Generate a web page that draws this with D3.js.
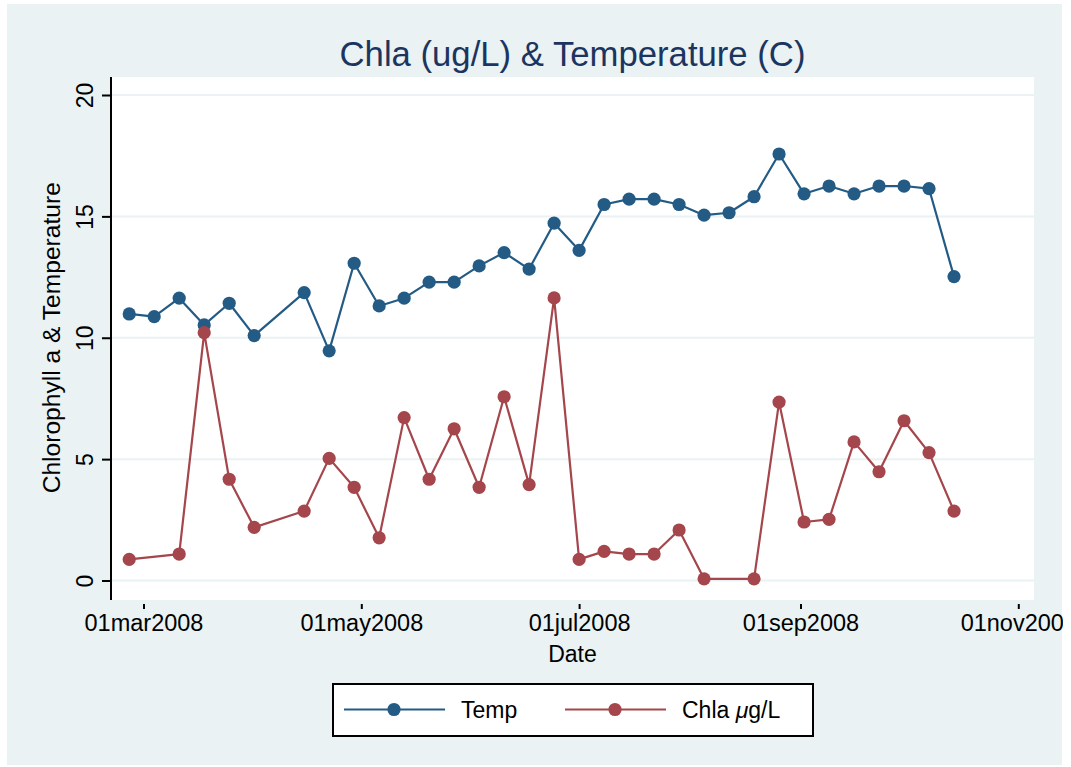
<!DOCTYPE html>
<html>
<head>
<meta charset="utf-8">
<script src="https://cdn.jsdelivr.net/npm/d3@7"></script>
<style>
  body { margin: 0; background: #fff; }
  svg { display: block; font-family: "Liberation Sans", Arial, Helvetica, sans-serif; }
</style>
</head>
<body>
<div id="chart"></div>
<script>
// Sample dates (weekly, Tuesdays; 8 Apr missing)
const dates = [
    "2008-02-26", "2008-03-04", "2008-03-11", "2008-03-18", "2008-03-25", "2008-04-01",
    "2008-04-15", "2008-04-22", "2008-04-29", "2008-05-06", "2008-05-13", "2008-05-20",
    "2008-05-27", "2008-06-03", "2008-06-10", "2008-06-17", "2008-06-24", "2008-07-01",
    "2008-07-08", "2008-07-15", "2008-07-22", "2008-07-29", "2008-08-05", "2008-08-12",
    "2008-08-19", "2008-08-26", "2008-09-02", "2008-09-09", "2008-09-16", "2008-09-23",
    "2008-09-30", "2008-10-07", "2008-10-14"
];

// Temperature (C)
const temp = [
    10.98, 10.87, 11.63, 10.53, 11.42, 10.09,
    11.86, 9.46, 13.07, 11.31, 11.63, 12.29,
    12.29, 12.96, 13.51, 12.83, 14.72, 13.60,
    15.49, 15.71, 15.71, 15.49, 15.05, 15.15,
    15.81, 17.57, 15.93, 16.25, 15.93, 16.25,
    16.25, 16.14, 12.52
];

// Chlorophyll a (ug/L), null = not sampled
const chla = [
    0.87, null, 1.09, 10.21, 4.17, 2.19,
    2.86, 5.03, 3.84, 1.76, 6.71, 4.17,
    6.25, 3.84, 7.57, 3.95, 11.64, 0.87,
    1.20, 1.09, 1.09, 2.08, 0.07, null,
    0.07, 7.35, 2.41, 2.52, 5.71, 4.48,
    6.58, 5.27, 2.86
];

const yTicks = [0, 5, 10, 15, 20];
const xTicks = ["2008-03-01", "2008-05-01", "2008-07-01", "2008-09-01", "2008-11-01"];

const width = 1071, height = 767;
const plot = { left: 111, right: 1034, top: 77, bottom: 600 };

const blue = "#235b85";
const red = "#a4464b";
const bg = "#eaf2f3";

const parse = d3.utcParse("%Y-%m-%d");
const fmt = d3.utcFormat("%d%b%Y");

const x = d3.scaleUtc()
    .domain([new Date(Date.UTC(2008, 1, 20, 21, 36)), new Date(Date.UTC(2008, 10, 5, 9, 36))])
    .range([plot.left, plot.right]);

const y = d3.scaleLinear()
    .domain([0, 20])
    .range([580.5, 95]);

const svg = d3.select("#chart").append("svg")
    .attr("width", width)
    .attr("height", height);

// graph region
svg.append("rect")
    .attr("x", 7).attr("y", 4)
    .attr("width", 1055).attr("height", 761)
    .attr("fill", bg);

svg.append("clipPath").attr("id", "region")
    .append("rect")
    .attr("x", 7).attr("y", 4)
    .attr("width", 1056).attr("height", 761);

// plot region
svg.append("rect")
    .attr("x", plot.left).attr("y", plot.top)
    .attr("width", plot.right - plot.left).attr("height", plot.bottom - plot.top)
    .attr("fill", "#fff");

// gridlines
svg.append("g")
    .selectAll("line")
    .data(yTicks)
    .join("line")
    .attr("x1", plot.left).attr("x2", plot.right)
    .attr("y1", d => y(d)).attr("y2", d => y(d))
    .attr("stroke", bg)
    .attr("stroke-width", 2);

// title
svg.append("text")
    .attr("x", (plot.left + plot.right) / 2)
    .attr("y", 66)
    .attr("text-anchor", "middle")
    .attr("fill", "#1c3560")
    .style("font-size", "34.7px")
    .text("Chla (ug/L) & Temperature (C)");

// y axis
const yAxis = svg.append("g")
    .attr("transform", `translate(${plot.left},0)`)
    .call(d3.axisLeft(y).tickValues(yTicks).tickSize(9).tickPadding(0).tickFormat(d3.format("d")));
yAxis.select(".domain")
    .attr("d", `M0,${plot.top}V${plot.bottom}`)
    .attr("stroke-width", 2);
yAxis.selectAll(".tick line").attr("stroke-width", 2);
yAxis.selectAll(".tick text")
    .attr("x", null).attr("dy", null)
    .attr("transform", "translate(-26,0) rotate(-90)")
    .attr("text-anchor", "middle")
    .attr("dominant-baseline", "central")
    .attr("fill", "#000")
    .style("font-size", "23px");

svg.append("text")
    .attr("transform", `translate(51,${(y(0) + y(20)) / 2}) rotate(-90)`)
    .attr("text-anchor", "middle")
    .attr("dominant-baseline", "central")
    .style("font-size", "24.6px")
    .text("Chlorophyll a & Temperature");

// x axis
const xAxis = svg.append("g")
    .attr("transform", `translate(0,${plot.bottom})`)
    .attr("clip-path", "url(#region)")
    .call(d3.axisBottom(x).tickValues(xTicks.map(parse)).tickSize(9).tickPadding(5)
        .tickFormat(d => fmt(d).toLowerCase()));
xAxis.select(".domain")
    .attr("d", `M${plot.left},0H${plot.right}`)
    .attr("stroke-width", 2);
xAxis.selectAll(".tick line").attr("stroke-width", 2);
xAxis.selectAll(".tick text")
    .attr("fill", "#000")
    .style("font-size", "23.5px");

svg.append("text")
    .attr("x", (plot.left + plot.right) / 2)
    .attr("y", 662)
    .attr("text-anchor", "middle")
    .style("font-size", "23px")
    .text("Date");

// series
const series = [
    { name: "Temp", values: temp, color: blue },
    { name: "Chla", values: chla, color: red }
];

const line = d3.line()
    .x(d => x(d.date))
    .y(d => y(d.value));

series.forEach(s => {
    const pts = dates.map((d, i) => ({ date: parse(d), value: s.values[i] }))
        .filter(p => p.value !== null);
    const g = svg.append("g");
    g.append("path")
        .datum(pts)
        .attr("d", line)
        .attr("fill", "none")
        .attr("stroke", s.color)
        .attr("stroke-width", 2.2)
        .attr("stroke-linejoin", "round");
    g.selectAll("circle")
        .data(pts)
        .join("circle")
        .attr("cx", d => x(d.date))
        .attr("cy", d => y(d.value))
        .attr("r", 6.6)
        .attr("fill", s.color);
});

// legend
const legend = svg.append("g");
legend.append("rect")
    .attr("x", 333).attr("y", 684)
    .attr("width", 480).attr("height", 52)
    .attr("fill", "#fff")
    .attr("stroke", "#000")
    .attr("stroke-width", 2);

const legendItems = [
    { label: "Temp", color: blue, x0: 344 },
    { label: "Chla", color: red, x0: 565 }
];
legendItems.forEach((d, i) => {
    legend.append("line")
        .attr("x1", d.x0).attr("x2", d.x0 + 101)
        .attr("y1", 709.5).attr("y2", 709.5)
        .attr("stroke", d.color)
        .attr("stroke-width", 2.2);
    legend.append("circle")
        .attr("cx", d.x0 + 50).attr("cy", 709.5)
        .attr("r", 6.6)
        .attr("fill", d.color);
    const t = legend.append("text")
        .attr("x", d.x0 + 117)
        .attr("y", 717.5)
        .style("font-size", "23px");
    if (i === 0) {
        t.text(d.label);
    } else {
        t.append("tspan").text(d.label + " ");
        t.append("tspan").style("font-style", "italic").text("\u03bc");
        t.append("tspan").text("g/L");
    }
});
</script>
</body>
</html>
